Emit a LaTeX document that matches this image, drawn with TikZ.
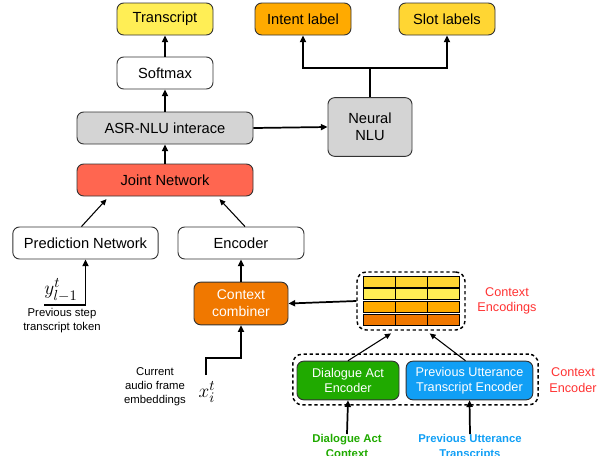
\documentclass[tikz,border=0pt]{standalone}
\usepackage[no-math]{fontspec}
\setmainfont{Liberation Sans}
\usetikzlibrary{positioning,arrows.meta}

\definecolor{tryellow}{HTML}{FFEE55}
\definecolor{intorange}{HTML}{FFAA00}
\definecolor{slotgold}{HTML}{FFD633}
\definecolor{boxgray}{HTML}{D4D4D4}
\definecolor{jointred}{HTML}{FF6650}
\definecolor{combinerorange}{HTML}{F07800}
\definecolor{dagreen}{HTML}{20AA00}
\definecolor{publue}{HTML}{119FF5}
\definecolor{ctxred}{HTML}{FF3333}

\tikzset{
  block/.style={draw=black!80,rounded corners=5pt,line width=0.7pt,
    align=center,font=\fontsize{11}{13}\selectfont,inner sep=1pt},
  arr/.style={-{Triangle[length=5pt,width=4.5pt]},line width=1.3pt},
  thinarr/.style={-{Triangle[length=4.5pt,width=4pt]},line width=0.8pt},
  dashbox/.style={draw,dashed,line width=1.1pt,dash pattern=on 2.5pt off 2pt,
    rounded corners=7pt},
  small/.style={font=\fontsize{8.5}{10.5}\selectfont,align=center},
  mathlab/.style={font=\fontsize{15}{17}\selectfont,inner sep=0pt},
}

\begin{document}
\begin{tikzpicture}[x=0.75pt,y=-0.75pt]
  \useasboundingbox (0,0) rectangle (608,455);

  % outputs
  \node[block,fill=tryellow,minimum width=72pt,minimum height=24pt] (tr) at (165,19) {Transcript};
  \node[block,fill=intorange,minimum width=72pt,minimum height=24pt] (intent) at (303,19) {Intent label};
  \node[block,fill=slotgold,minimum width=72pt,minimum height=24pt] (slot) at (447,19) {Slot labels};

  \node[block,fill=white,minimum width=72pt,minimum height=24pt] (sm) at (165,73) {Softmax};
  \node[block,fill=boxgray,minimum width=132pt,minimum height=24pt] (asr) at (165,128) {ASR-NLU interace};
  \node[block,fill=boxgray,minimum width=63pt,minimum height=44pt] (nlu) at (370,127) {Neural\\NLU};
  \node[block,fill=jointred,minimum width=132pt,minimum height=24pt] (jn) at (165,180) {Joint Network};

  \node[block,fill=white,minimum width=109pt,minimum height=24pt] (pn) at (85.5,243) {Prediction Network};
  \node[block,fill=white,minimum width=94.5pt,minimum height=24pt] (enc) at (241,243) {Encoder};
  \node[block,fill=combinerorange,text=white,minimum width=70.5pt,minimum height=32pt,
    font=\fontsize{10.5}{12.5}\selectfont] (cc) at (241,303.5) {Context\\combiner};

  % context encodings
  \foreach \row/\ytop/\col in {1/276/slotgold,2/288.5/tryellow,3/301/intorange,4/314/combinerorange}{
    \foreach \xl in {363,395,427}{
      \draw[fill=\col,line width=0.6pt] (\xl,\ytop) rectangle ++(32,11);
    }
  }
  \node[dashbox,minimum width=81pt,minimum height=43.5pt] (ce) at (411,301) {};
  \node[text=ctxred,font=\fontsize{9.5}{11.5}\selectfont,align=center] (celabel) at (507,301) {Context\\Encodings};

  % context encoder
  \node[dashbox,minimum width=184pt,minimum height=38pt] (cenc) at (415.5,379.5) {};
  \node[block,fill=dagreen,text=white,minimum width=76.5pt,minimum height=29pt,
    font=\fontsize{9.5}{11.5}\selectfont] (da) at (348,380.5) {Dialogue Act\\Encoder};
  \node[block,fill=publue,text=white,minimum width=95pt,minimum height=29pt,
    font=\fontsize{9.5}{11.5}\selectfont] (pu) at (469.5,380.5) {Previous Utterance\\Transcript Encoder};
  \node[text=ctxred,font=\fontsize{9.5}{11.5}\selectfont,align=center] (cenclabel) at (573,380) {Context\\Encoder};

  % inputs
  \node[text=dagreen,font=\bfseries\fontsize{8.5}{11}\selectfont,align=center,anchor=north,inner sep=0pt] (dal) at (347,434) {Dialogue Act\\Context};
  \node[text=publue,font=\bfseries\fontsize{8.5}{11}\selectfont,align=center,anchor=north,inner sep=0pt] (pul) at (470,434) {Previous Utterance\\Transcripts};

  \coordinate (yin) at (44,305);
  \node[mathlab] (ylab) at (61,290) {$y^{t}_{l-1}$};
  \node[small] (ytext) at (62,321) {Previous step\\transcript token};

  \coordinate (xin) at (206,375);
  \node[mathlab] (xlab) at (207,392) {$x^{t}_{i}$};
  \node[small] (xtext) at (155,387) {Current\\audio frame\\embeddings};

  \coordinate (split) at (370,68);

  % connectors
  \draw[arr] (sm) -- (tr);
  \draw[arr] (asr) -- (sm);
  \draw[arr] (jn) -- (asr);
  \draw[arr] (asr.east) -- (nlu.west);
  \draw[line width=1.3pt] (nlu.north) -- (split);
  \draw[arr] (split) -| (intent.south);
  \draw[arr] (split) -| (slot.south);
  \draw[thinarr] ([xshift=-3pt]pn.north) -- ([xshift=22.5pt,yshift=-2pt]jn.south west);
  \draw[thinarr] ([xshift=3pt]enc.north) -- ([xshift=-25.5pt,yshift=-2pt]jn.south east);
  \draw[arr] (yin) -| (pn.south);
  \draw[arr] (cc) -- (enc);
  \draw[arr] (xin) -- ++(0,-17) -| (cc.south);
  \draw[arr] (ce.west) -- (cc.east);
  \draw[thinarr] (da.north) -- ([xshift=-15pt,yshift=-2pt]ce.south);
  \draw[thinarr] ([xshift=-3pt]pu.north) -- ([xshift=14pt,yshift=-2pt]ce.south);
  \draw[arr] (dal.north) -- (da.south);
  \draw[arr] (pul.north) -- (pu.south);
\end{tikzpicture}
\end{document}
